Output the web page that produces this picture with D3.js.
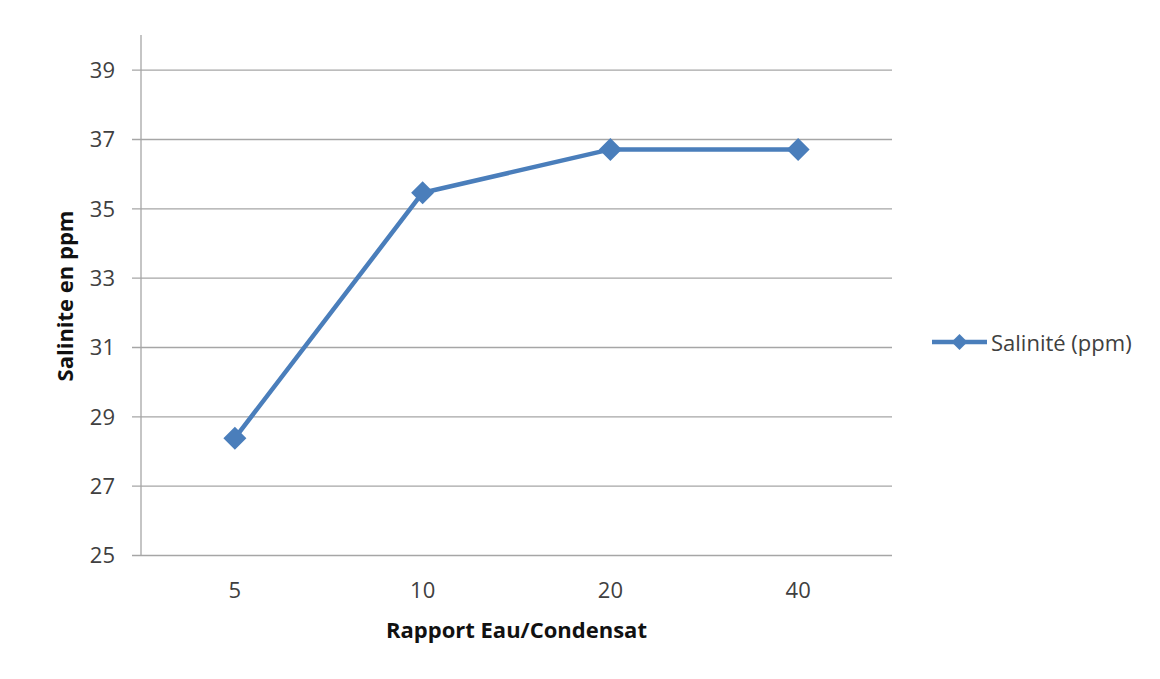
<!DOCTYPE html>
<html>
<head>
<meta charset="utf-8">
<script src="https://cdn.jsdelivr.net/npm/d3@7"></script>
<style>
  body { margin: 0; background: #fff; }
  svg { display: block; }
  svg text { font-family: "Open Sans", "Noto Sans", sans-serif; }
</style>
</head>
<body>
<svg id="chart" width="1160" height="679"></svg>
<script>
// Salinity measured against water/condensate ratio
const categories = ["5", "10", "20", "40"];
const salinity = [28.37, 35.45, 36.7, 36.7];
const yTicks = [25, 27, 29, 31, 33, 35, 37, 39];
const seriesName = "Salinité (ppm)";
const xTitle = "Rapport Eau/Condensat";
const yTitle = "Salinite en ppm";

const svg = d3.select("#chart");
const plot = { left: 141, right: 892, top: 35, bottom: 555 };
const blue = "#4a7ebb";
const gridColor = "#a6a6a6";
const textColor = "#404040";
const font = '"Open Sans", "Noto Sans", sans-serif';

const x = d3.scaleBand().domain(categories).range([plot.left, plot.right]);
const y = d3.scaleLinear().domain([25, 40]).range([plot.bottom, plot.top]);

// horizontal gridlines with left tick marks
const yAxis = d3.axisLeft(y).tickValues(yTicks)
  .tickSize(-(plot.right - plot.left)).tickSizeOuter(0);
const gy = svg.append("g").attr("transform", `translate(${plot.left},0)`)
  .call(yAxis).attr("font-family", font).attr("font-size", 22);
gy.select(".domain").remove();
gy.selectAll(".tick line").attr("stroke", gridColor).attr("stroke-width", 1.3)
  .attr("x1", -9);
gy.selectAll(".tick text").attr("fill", textColor).attr("x", -26).attr("dy", "0.35em");

// vertical axis line
svg.append("line")
  .attr("x1", plot.left).attr("x2", plot.left)
  .attr("y1", y(40)).attr("y2", y(25))
  .attr("stroke", gridColor).attr("stroke-width", 1.3);

// category labels
const xAxis = d3.axisBottom(x).tickSize(0).tickPadding(0);
const gx = svg.append("g").attr("transform", `translate(0,${plot.bottom})`)
  .call(xAxis).attr("font-family", font).attr("font-size", 22);
gx.select(".domain").remove();
gx.selectAll(".tick text").attr("fill", textColor).attr("y", 43).attr("dy", 0);

// series line
const cx = d => x(d) + x.bandwidth() / 2;
const line = d3.line().x((d, i) => cx(categories[i])).y(d => y(d));
svg.append("path").datum(salinity)
  .attr("d", line).attr("fill", "none")
  .attr("stroke", blue).attr("stroke-width", 4.5).attr("stroke-linejoin", "round");

const diamondPath = "M0,-11.5L11.5,0L0,11.5L-11.5,0Z";
svg.append("g").selectAll("path").data(salinity).join("path")
  .attr("d", diamondPath)
  .attr("transform", (d, i) => `translate(${cx(categories[i])},${y(d)})`)
  .attr("fill", blue);

// axis titles
svg.append("text").text(xTitle)
  .attr("x", (plot.left + plot.right) / 2).attr("y", 638)
  .attr("text-anchor", "middle").attr("font-weight", "bold")
  .attr("font-size", 22).attr("fill", "#111");
svg.append("text").text(yTitle)
  .attr("transform", `translate(73,${(plot.top + plot.bottom) / 2 + 1}) rotate(-90)`)
  .attr("text-anchor", "middle").attr("font-weight", "bold")
  .attr("font-size", 22).attr("fill", "#111");

// legend
const lg = svg.append("g").attr("transform", "translate(932,342)");
lg.append("line").attr("x1", 0).attr("x2", 55).attr("y1", 0).attr("y2", 0)
  .attr("stroke", blue).attr("stroke-width", 4.5);
lg.append("path").attr("d", "M0,-8L8,0L0,8L-8,0Z")
  .attr("transform", "translate(27.5,0)").attr("fill", blue);
lg.append("text").text(seriesName).attr("x", 59).attr("y", 8.5)
  .attr("font-size", 22).attr("fill", textColor);
</script>
</body>
</html>
